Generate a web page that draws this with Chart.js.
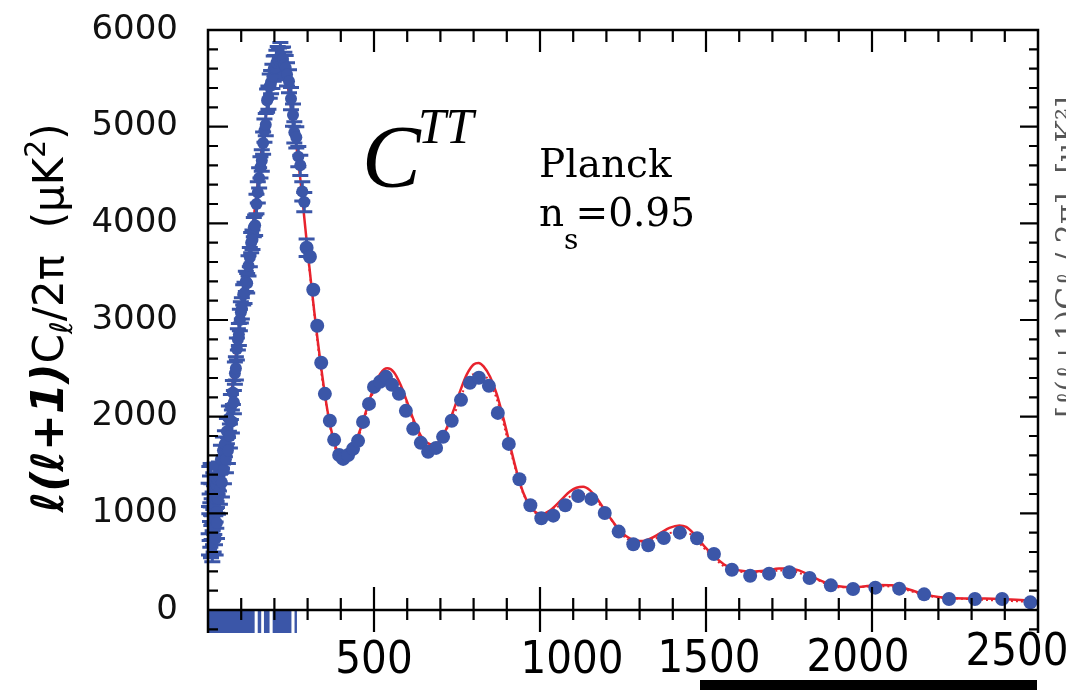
<!DOCTYPE html>
<html><head><meta charset="utf-8">
<script src="https://cdn.jsdelivr.net/npm/chart.js@4.4.1/dist/chart.umd.min.js"></script>
<style>html,body{margin:0;padding:0;background:#fff;}canvas{display:block;}</style>
</head><body>
<canvas id="c" width="1066" height="690"></canvas>
<script>
// ---------- data ----------
const ellLow = [2,3,4,5,6,7,8,9,10,11,12,13,14,15,16,17,18,19,20,21,22,23,24,25,26,27,28,29,
  30,33,36,39,42,45,48,51,54,57,60,63,66,69,72,75,78,81,84,87,90,93,96,99,
  102,106,110,114,118,122,126,130,134,138,142,146,150,154,158,162,166,170,174,178,
  182,186,190,194,198,202,206,210,214,218,222,226,230,234,238,244,250,256,260,266,272,278,284,290];
const dLow = [1050,820,1240,960,1150,880,1290,760,1090,940,1180,700,1020,870,1230,790,1100,960,1340,850,1150,740,1220,1010,1290,900,1160,1350,
  1150,1380,1250,1560,1320,1650,1450,1720,1560,1850,1650,1980,1800,2100,1950,2250,2150,2450,2500,2700,2800,2850,3000,3080,
  3120,3260,3280,3400,3380,3560,3650,3800,3830,3960,3980,4200,4320,4470,4580,4650,4830,4960,5020,5270,
  5300,5420,5460,5520,5600,5610,5660,5700,5680,5730,5690,5700,5640,5610,5540,5470,5290,5120,4940,4890,4690,4600,4330,4220];
const errLow = [260,250,245,240,235,230,225,220,215,210,205,200,200,195,190,190,185,180,180,175,175,170,170,165,165,160,160,155,
  160,150,155,145,150,140,145,135,140,130,135,130,125,130,120,125,120,115,120,115,110,115,110,110,
  110,105,110,105,100,105,100,105,100,100,105,100,110,105,110,110,115,120,115,120,
  120,125,120,125,130,125,130,130,135,140,130,125,130,125,120,120,115,115,110,110,105,105,100,100];

const ellBin = [297,307,317,329,341,352,367,380,395,407,422,437,452,467,485,500,518,536,554,575,
  596,618,641,663,687,708,734,762,789,816,846,873,906,938,971,1004,1040,1076,1115,1155,
  1195,1237,1281,1326,1373,1421,1473,1524,1578,1633,1690,1751,1812,1876,1943,2010,2082,2157,2232,2310,2392,2477];
const dBin = [3747,3654,3313,2940,2557,2236,1957,1760,1604,1563,1604,1667,1750,1946,2132,2308,2360,2412,2329,2236,
  2060,1874,1729,1636,1677,1791,1957,2174,2350,2402,2319,2039,1718,1352,1083,949,976,1083,1180,1149,
  1004,811,680,669,745,800,742,580,417,355,376,390,331,255,217,231,221,162,114,114,114,79];
const errBin = [90,85,80,75,70,65,60,55,50,50,45,45,45,45,40,40,40,40,40,40,
  35,35,35,35,35,35,35,35,35,35,35,35,35,35,30,30,30,30,30,30,
  30,30,30,30,30,30,30,30,30,30,30,30,30,30,30,30,30,30,30,30,30,30];

const ellTheory = [2,10,20,30,40,50,60,70,80,90,100,110,120,130,140,150,160,170,180,190,
  200,210,220,230,240,250,260,270,280,290,300,310,320,330,340,350,360,370,380,390,
  400,410,420,440,460,480,500,520,540,560,580,600,620,640,660,680,700,720,740,760,
  780,800,815,830,850,870,890,910,930,950,970,990,1010,1030,1050,1070,1090,1110,1130,1150,
  1170,1190,1210,1230,1250,1270,1290,1310,1330,1360,1390,1420,1440,1460,1480,1500,1530,1560,1600,1640,
  1680,1720,1750,1780,1810,1840,1870,1900,1940,1980,2020,2060,2100,2140,2180,2220,2280,2340,2400,2460,2500];
const dTheory = [1150,1000,1050,1250,1500,1720,1960,2220,2520,2820,3080,3330,3580,3830,4120,4420,4720,4990,5240,5420,
  5540,5600,5600,5550,5420,5200,4950,4700,4400,4060,3720,3400,3090,2800,2530,2280,2060,1880,1740,1640,
  1580,1560,1580,1700,1880,2100,2310,2450,2500,2460,2330,2150,1960,1810,1730,1710,1760,1890,2070,2270,
  2440,2540,2555,2520,2410,2230,1980,1700,1430,1210,1070,1005,995,1030,1090,1160,1225,1265,1275,1240,
  1160,1060,960,865,790,740,715,715,735,790,850,875,860,800,720,640,540,460,410,398,
  408,428,430,410,362,312,272,245,235,245,258,255,225,182,146,126,118,118,112,100,85];

const ellDotted = [300,350,400,450,500,540,580,640,680,740,800,830,870,910,950,1000,1050,1110,1150,1200,
  1260,1310,1400,1440,1500,1560,1640,1740,1810,1900,2040,2180,2300,2500];
const dDotted = [3680,2250,1570,1770,2270,2430,2290,1780,1680,2020,2440,2430,2180,1660,1200,985,1060,1200,1190,1000,
  740,700,800,800,620,440,390,410,350,235,245,140,112,80];

// band of clipped low-ℓ bars below zero
const bandStart = [2,149,168,194,260];
const bandEnd = [141,161,186,252,268];

const yTickValues = [0,1000,2000,3000,4000,5000,6000];
const xTickValues = [500,1000,1500,2000,2500];
const xTickLabels = ['500','1000','1500','2000','2500'];
const panelLabel = 'C';
const panelSup = 'TT';
const noteLine1 = 'Planck';
const noteLine2 = ['n','s','=0.95'];
const yTitleParts = ['ℓ(ℓ+1)','C','ℓ','/2π  (μK','2',')'];
const sideText = '[ℓ(ℓ+1)Cℓ / 2π]  [μK²]';

// ---------- styles ----------
const BLUE = '#3b56a8';
const RED = '#e8232d';

const toXY = (xs, ys) => xs.map((v, i) => ({x: v, y: ys[i]}));

const datasets = [
  {type:'scatter', label:'low', data: toXY(ellLow, dLow), errors: errLow,
   backgroundColor: BLUE, borderColor: BLUE, pointRadius: 6, pointBorderWidth: 0, pointHoverRadius: 6, order: 0},
  {type:'scatter', label:'bin', data: toXY(ellBin, dBin), errors: errBin,
   backgroundColor: BLUE, borderColor: BLUE, pointRadius: 7, pointBorderWidth: 0, pointHoverRadius: 7, order: 0},
  {type:'line', label:'theory', data: toXY(ellTheory, dTheory), borderColor: RED, borderWidth: 2.5,
   pointRadius: 0, fill: false, cubicInterpolationMode: 'monotone', order: 1},
  {type:'line', label:'dotted', data: toXY(ellDotted, dDotted), borderColor: RED, borderWidth: 2,
   borderDash: [2,3], pointRadius: 0, fill: false, cubicInterpolationMode: 'monotone', order: 1}
];
bandStart.forEach((s, i) => {
  datasets.push({type:'line', label:'band'+i, data:[{x:s,y:0},{x:bandEnd[i],y:0}],
    borderWidth: 0, borderColor: BLUE, backgroundColor: BLUE, pointRadius: 0,
    fill: {value: -2000}, order: 2});
});

const errorBars = {
  id: 'errorBars',
  beforeDatasetDraw(chart, args) {
    const ds = chart.data.datasets[args.index];
    if (!ds.errors) return;
    const {ctx, scales: {x, y}} = chart;
    ctx.save();
    ctx.strokeStyle = BLUE;
    ctx.lineWidth = 3;
    const r = ds.pointRadius;
    ctx.beginPath();
    ds.data.forEach((p, i) => {
      const e = ds.errors[i];
      const px = x.getPixelForValue(p.x);
      const yt = y.getPixelForValue(p.y + e);
      const yb = y.getPixelForValue(p.y - e);
      if (yb - yt < 2 * r + 3) return;
      ctx.moveTo(px, yt); ctx.lineTo(px, yb);
      ctx.moveTo(px - 8, yt); ctx.lineTo(px + 8, yt);
      ctx.moveTo(px - 8, yb); ctx.lineTo(px + 8, yb);
    });
    ctx.stroke();
    ctx.restore();
  }
};

const frame = {
  id: 'frame',
  afterDatasetsDraw(chart) {
    const {ctx, chartArea: a, scales: {x, y}} = chart;
    const y0 = y.getPixelForValue(0);
    ctx.save();
    ctx.strokeStyle = '#000';
    ctx.lineWidth = 2.5;
    ctx.beginPath();
    ctx.moveTo(a.left, a.bottom); ctx.lineTo(a.left, a.top);
    ctx.lineTo(a.right, a.top); ctx.lineTo(a.right, a.bottom);
    ctx.moveTo(a.left, y0); ctx.lineTo(a.right, y0);
    ctx.stroke();
    ctx.lineWidth = 2.2;
    ctx.beginPath();
    for (let v = 100; v < 2500; v += 100) {
      const px = x.getPixelForValue(v);
      const major = v % 500 === 0;
      ctx.moveTo(px, a.top); ctx.lineTo(px, a.top + (major ? 22 : 12));
      ctx.moveTo(px, y0 - (major ? 23 : 12)); ctx.lineTo(px, y0 + (major ? 22 : 10));
    }
    for (let v = -200; v < 6000; v += 200) {
      if (v === 0) continue;
      const py = y.getPixelForValue(v);
      const major = v % 1000 === 0;
      ctx.moveTo(a.left, py); ctx.lineTo(a.left + (major ? 20 : 10), py);
      ctx.moveTo(a.right, py); ctx.lineTo(a.right - (major ? 18 : 9), py);
    }
    ctx.stroke();
    ctx.restore();
  },
  afterDraw(chart) {
    const {ctx, chartArea: a, scales: {x, y}} = chart;
    ctx.save();
    ctx.fillStyle = '#000';
    // x tick labels
    const dx = [0, 32, 3, -14, -21];
    const base = [673, 673, 672, 671, 665];
    ctx.font = "45px 'Liberation Sans Narrow', 'DejaVu Sans Condensed', sans-serif";
    ctx.textAlign = 'center';
    ctx.textBaseline = 'alphabetic';
    xTickValues.forEach((v, i) => {
      ctx.fillText(xTickLabels[i], x.getPixelForValue(v) + dx[i], base[i]);
    });
    // y title (rotated, mixed styles)
    ctx.save();
    ctx.translate(63, 318);
    ctx.rotate(-Math.PI / 2);
    const fonts = ["italic bold 44px 'DejaVu Sans'", "42px 'DejaVu Sans'", "italic 31px 'DejaVu Sans'",
                   "42px 'DejaVu Sans'", "28px 'DejaVu Sans'", "42px 'DejaVu Sans'"];
    const dys = [0, 0, 9, 0, -18, 0];
    let total = 0;
    yTitleParts.forEach((t, i) => { ctx.font = fonts[i]; total += ctx.measureText(t).width; });
    let cx = -total / 2;
    ctx.textAlign = 'left';
    ctx.textBaseline = 'alphabetic';
    yTitleParts.forEach((t, i) => {
      ctx.font = fonts[i];
      ctx.fillText(t, cx, dys[i]);
      cx += ctx.measureText(t).width;
    });
    ctx.restore();
    // panel label C^TT
    ctx.textAlign = 'left';
    ctx.font = "italic 88px 'Liberation Serif', serif";
    ctx.fillText(panelLabel, 362, 186);
    ctx.font = "italic 50px 'Liberation Serif', serif";
    ctx.fillText(panelSup, 418, 143);
    // Planck note
    ctx.font = "39px 'DejaVu Serif', serif";
    ctx.fillText(noteLine1, 539, 177);
    ctx.fillText(noteLine2[0], 539, 226);
    let w = ctx.measureText(noteLine2[0]).width;
    ctx.font = "28px 'DejaVu Serif', serif";
    ctx.fillText(noteLine2[1], 539 + w, 249);
    const ws = ctx.measureText(noteLine2[1]).width;
    ctx.font = "39px 'DejaVu Serif', serif";
    ctx.fillText(noteLine2[2], 539 + w + ws - 3, 226);
    // partially cut side text
    ctx.save();
    ctx.fillStyle = '#555';
    ctx.translate(1069, 257);
    ctx.rotate(-Math.PI / 2);
    ctx.font = "30px 'DejaVu Serif', serif";
    ctx.textAlign = 'center';
    ctx.textBaseline = 'middle';
    ctx.fillText(sideText, 0, 0);
    ctx.restore();
    // bottom black bar
    ctx.fillStyle = '#000';
    ctx.fillRect(700, 680, 337, 10);
    ctx.restore();
  }
};

new Chart(document.getElementById('c'), {
  type: 'scatter',
  data: {datasets},
  options: {
    responsive: false,
    animation: false,
    devicePixelRatio: 1,
    layout: {padding: {top: 30, right: 28, left: 0, bottom: 0}},
    plugins: {legend: {display: false}, tooltip: {enabled: false}},
    scales: {
      x: {
        type: 'linear', min: 0, max: 2500,
        grid: {display: false, drawTicks: false}, border: {display: false},
        ticks: {display: false},
        afterBuildTicks: s => { s.ticks = xTickValues.map(v => ({value: v})); },
        afterFit: s => { s.height = 57; s.paddingLeft = 0; s.paddingRight = 0; }
      },
      y: {
        type: 'linear', min: -238, max: 6000,
        grid: {display: false, drawTicks: false}, border: {display: false},
        ticks: {color: '#111', padding: 30, font: {family: "'DejaVu Sans'", size: 34},
                callback: v => String(v)},
        afterBuildTicks: s => { s.ticks = yTickValues.map(v => ({value: v})); },
        afterFit: s => { s.width = 208; s.paddingTop = 0; s.paddingBottom = 0; }
      }
    }
  },
  plugins: [errorBars, frame]
});
</script>
</body></html>
